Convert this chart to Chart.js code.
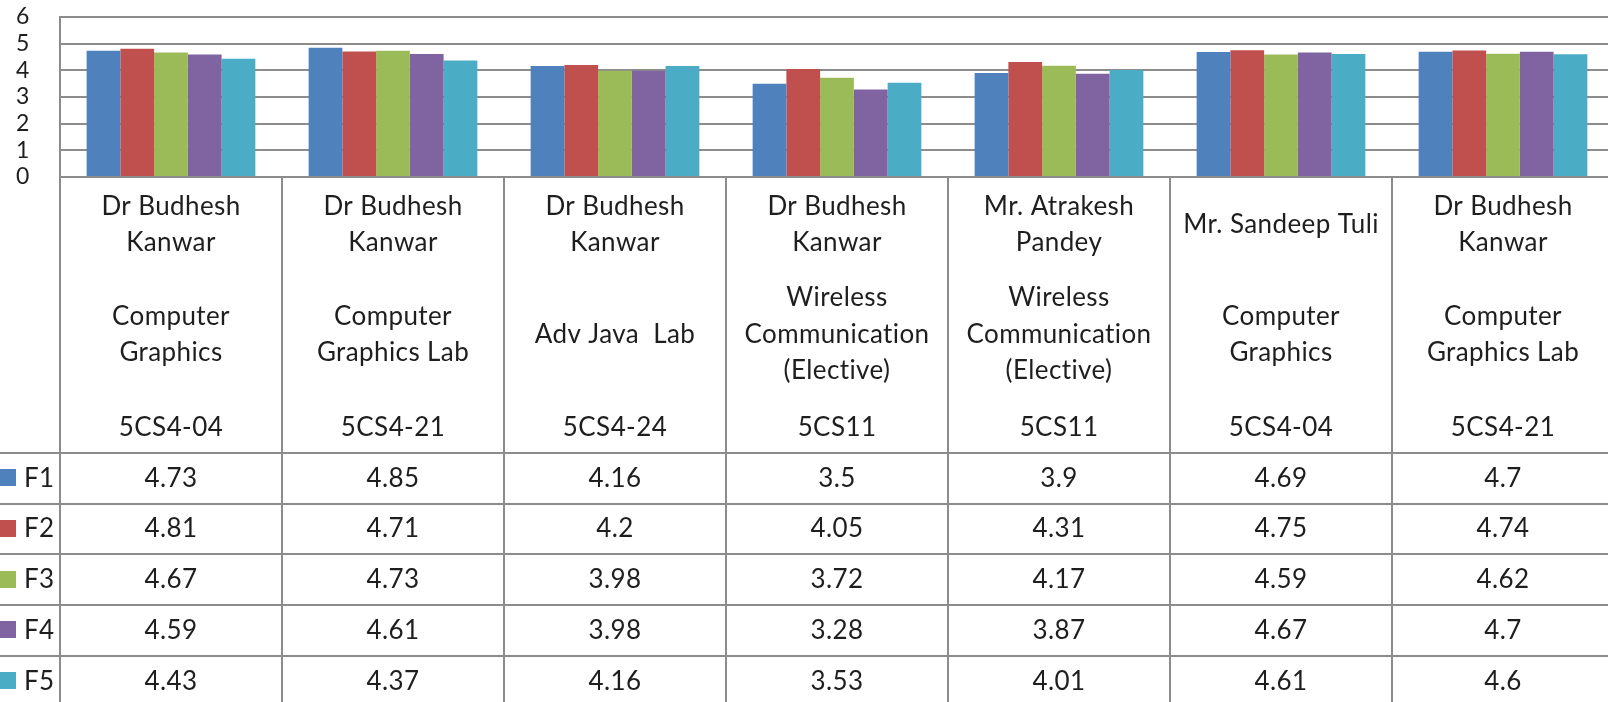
<!DOCTYPE html>
<html>
<head>
<meta charset="utf-8">
<script src="https://cdn.jsdelivr.net/npm/chart.js@4/dist/chart.umd.min.js"></script>
<style>
  html, body { margin: 0; padding: 0; background: #fff; overflow: hidden; }
  #wrap { position: absolute; left: 0; top: 0; width: 1620px; height: 702px; }
</style>
</head>
<body>
<div id="wrap"><canvas id="myChart" width="1620" height="702"></canvas></div>
<script>
// chart data
const teachers = [
    ['Dr Budhesh', 'Kanwar'],
    ['Dr Budhesh', 'Kanwar'],
    ['Dr Budhesh', 'Kanwar'],
    ['Dr Budhesh', 'Kanwar'],
    ['Mr. Atrakesh', 'Pandey'],
    ['Mr. Sandeep Tuli'],
    ['Dr Budhesh', 'Kanwar'],
];
const subjects = [
    ['Computer', 'Graphics'],
    ['Computer', 'Graphics Lab'],
    ['Adv Java  Lab'],
    ['Wireless', 'Communication', '(Elective)'],
    ['Wireless', 'Communication', '(Elective)'],
    ['Computer', 'Graphics'],
    ['Computer', 'Graphics Lab'],
];
const codes = ['5CS4-04', '5CS4-21', '5CS4-24', '5CS11', '5CS11', '5CS4-04', '5CS4-21'];

const seriesNames = ['F1', 'F2', 'F3', 'F4', 'F5'];
const F1 = [4.73, 4.85, 4.16, 3.5, 3.9, 4.69, 4.7];
const F2 = [4.81, 4.71, 4.2, 4.05, 4.31, 4.75, 4.74];
const F3 = [4.67, 4.73, 3.98, 3.72, 4.17, 4.59, 4.62];
const F4 = [4.59, 4.61, 3.98, 3.28, 3.87, 4.67, 4.7];
const F5 = [4.43, 4.37, 4.16, 3.53, 4.01, 4.61, 4.6];
const seriesValues = [F1, F2, F3, F4, F5];
const colors = ['#4F81BD', '#C0504D', '#9BBB59', '#8064A2', '#4BACC6'];

const gridColor = '#8c8c8c';
const textColor = '#1e1e1e';
const font = 'Lato';

// draws the category labels and the data table under the axis
const dataTable = {
    id: 'dataTable',
    afterDraw(chart) {
        const ctx = chart.ctx;
        const x = chart.scales.x;
        const W = chart.width;
        ctx.save();
        ctx.fillStyle = textColor;
        ctx.font = '26px ' + font;
        ctx.letterSpacing = '0.4px';
        ctx.textAlign = 'center';
        ctx.textBaseline = 'middle';
        const lh = 36.5;
        codes.forEach((code, i) => {
            const cx = x.getPixelForValue(i);
            const t = teachers[i];
            t.forEach((s, k) => ctx.fillText(s, cx, 224.5 + (k - (t.length - 1) / 2) * lh));
            const sb = subjects[i];
            sb.forEach((s, k) => ctx.fillText(s, cx, 334.5 + (k - (sb.length - 1) / 2) * lh));
            ctx.fillText(code, cx, 428);
        });

        // rows
        const rowTop = 453, rowH = 50.7;
        ctx.strokeStyle = gridColor;
        ctx.lineWidth = 2;
        for (let r = 0; r <= seriesNames.length; r++) {
            const y = Math.round(rowTop + r * rowH);
            ctx.beginPath();
            ctx.moveTo(0, y);
            ctx.lineTo(W, y);
            ctx.stroke();
        }
        seriesNames.forEach((name, r) => {
            const cy = rowTop + (r + 0.5) * rowH;
            ctx.fillStyle = colors[r];
            ctx.fillRect(-1, Math.round(cy - 9), 17, 17);
            ctx.fillStyle = textColor;
            ctx.textAlign = 'left';
            ctx.fillText(name, 24, cy);
            ctx.textAlign = 'center';
            seriesValues[r].forEach((v, i) => {
                ctx.fillText(String(v), x.getPixelForValue(i), cy);
            });
        });
        ctx.restore();
    }
};

const data = {
    labels: codes,
    datasets: seriesNames.map((name, k) => ({
        label: name,
        data: seriesValues[k],
        backgroundColor: colors[k],
        borderWidth: 0,
        categoryPercentage: 0.76,
        barPercentage: 1.0
    }))
};

const config = {
    type: 'bar',
    data,
    options: {
        responsive: false,
        animation: false,
        devicePixelRatio: 1,
        layout: { padding: { top: 17, right: 6, left: 16, bottom: 0 } },
        plugins: {
            legend: { display: false },
            tooltip: { enabled: false }
        },
        scales: {
            x: {
                offset: true,
                ticks: { display: false },
                grid: {
                    offset: true,
                    drawOnChartArea: false,
                    drawTicks: true,
                    tickLength: 525,
                    color: gridColor,
                    lineWidth: 2
                },
                border: { display: false },
                afterFit(scale) { scale.height = 525; }
            },
            y: {
                min: 0,
                max: 6,
                ticks: {
                    stepSize: 1,
                    autoSkip: false,
                    padding: 0,
                    crossAlign: 'far',
                    color: textColor,
                    font: { family: font, size: 23, lineHeight: 1 }
                },
                grid: { color: gridColor, lineWidth: 2, drawTicks: false },
                border: { display: true, color: gridColor, width: 2 },
                afterFit(scale) { scale.width = 44; }
            }
        }
    },
    plugins: [dataTable]
};

const myChart = new Chart(document.getElementById('myChart'), config);
</script>
</body>
</html>
